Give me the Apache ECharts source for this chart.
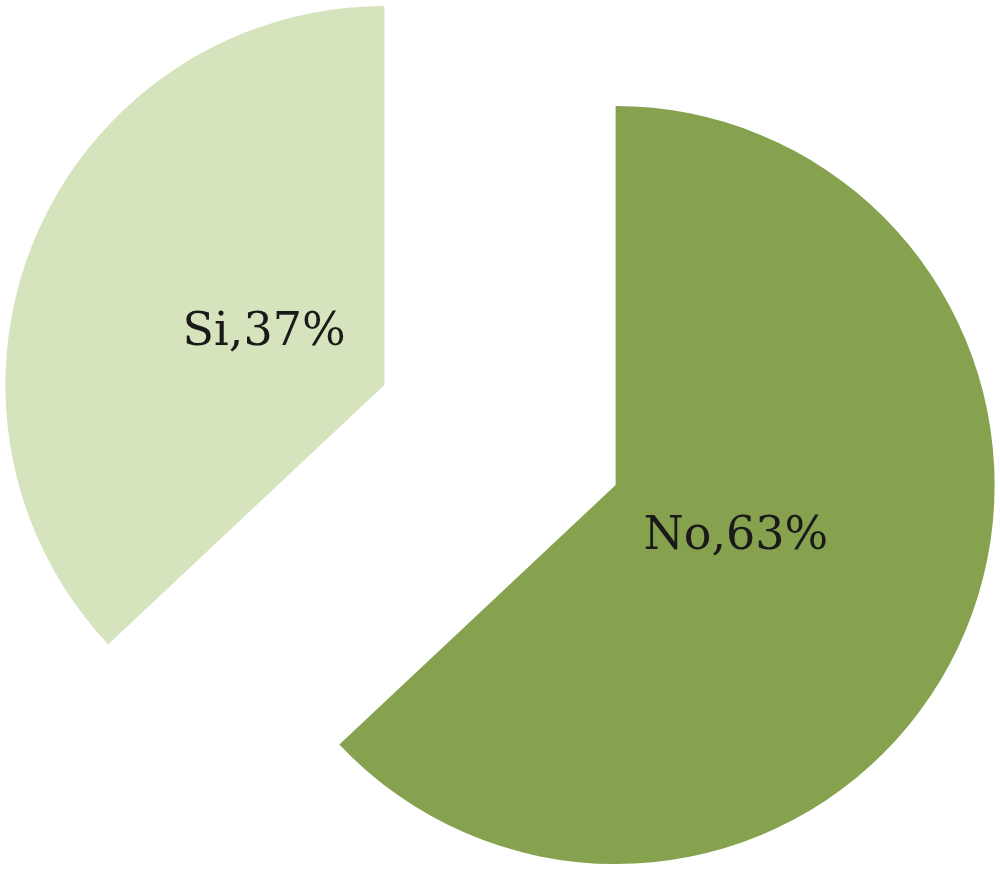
<!DOCTYPE html>
<html>
<head>
<meta charset="utf-8">
<script src="https://cdn.jsdelivr.net/npm/echarts@6/dist/echarts.min.js"></script>
<style>
  html, body { margin: 0; padding: 0; background: #fff; }
  #chart { width: 1000px; height: 869px; }
</style>
</head>
<body>
<div id="chart"></div>
<script>
const categories = ['No', 'Si']
const values = [63, 37]
const colors = ['#86a24e', '#d6e4bd']

const chart = echarts.init(document.getElementById('chart'))

function makeData(withColor) {
  return categories.map((name, i) => ({
    name,
    value: values[i],
    selected: true,
    itemStyle: { color: withColor ? colors[i] : 'rgba(0,0,0,0)' },
  }))
}

const center = [500, 435]

chart.setOption({
  animation: false,
  series: [
    {
      // slices
      type: 'pie',
      center,
      radius: 379,
      startAngle: 90,
      clockwise: true,
      selectedMode: 'multiple',
      selectedOffset: 126,
      label: { show: false },
      labelLine: { show: false },
      emphasis: { disabled: true },
      data: makeData(true),
    },
    {
      // label carrier, smaller radius so labels sit nearer the apex
      type: 'pie',
      center,
      radius: 256,
      startAngle: 90,
      clockwise: true,
      selectedMode: 'multiple',
      selectedOffset: 126,
      silent: true,
      label: {
        show: true,
        position: 'inside',
        formatter: (p) => `${p.name},${p.value}%`,
        fontFamily: 'DejaVu Serif',
        fontSize: 46,
        color: '#1a1a1a',
      },
      labelLine: { show: false },
      emphasis: { disabled: true },
      data: makeData(false),
    },
  ],
})
</script>
</body>
</html>
